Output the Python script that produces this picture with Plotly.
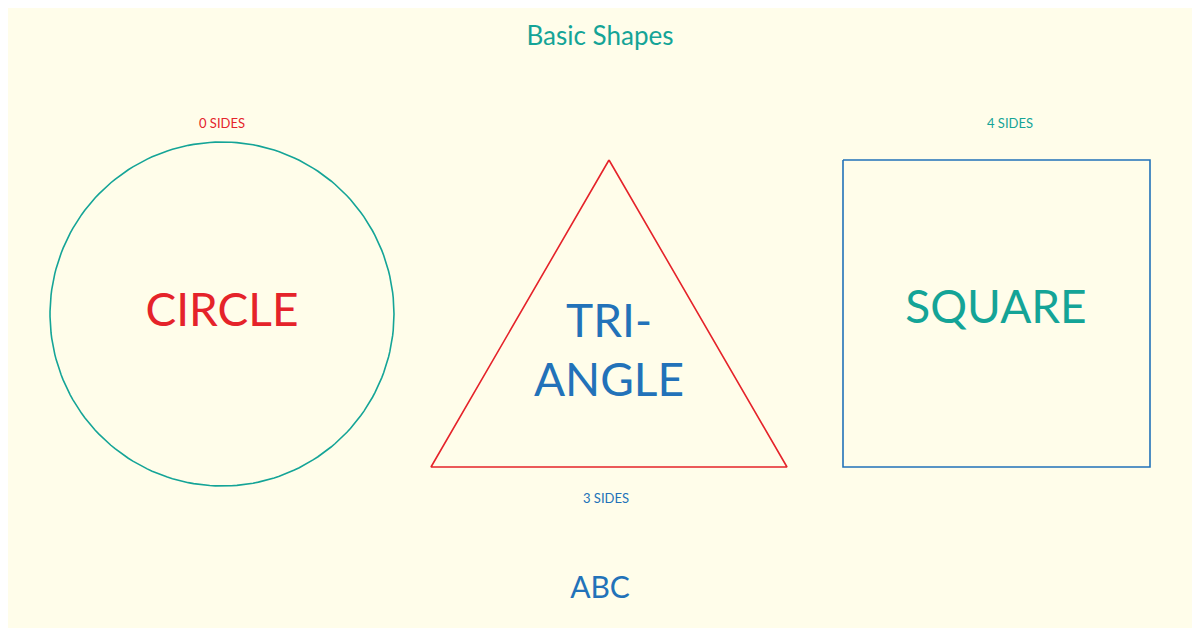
import numpy as np
import plotly.graph_objects as go

# shape data (in pixel-like units of a 1200 x 628 canvas)
shape_names = ["CIRCLE", "TRI-<br>ANGLE", "SQUARE"]
side_labels = ["0 SIDES", "3 SIDES", "4 SIDES"]
shape_colors = ["#14a497", "#e5232a", "#2272b9"]
text_colors = ["#e5232a", "#2272b9", "#14a497"]
centers_x = [222, 609, 996]
centers_y = [314, 355, 311]
circle_r = 172
tri_x = [609, 431, 787, 609]
tri_y = [160, 467, 467, 160]
sq_x = [843, 1150, 1150, 843, 843]
sq_y = [160, 160, 467, 467, 160]
label_x = [222, 606, 1010]
label_y = [125, 500, 125]

FONT = "Comic Sans MS, Lato, sans-serif"

fig = go.Figure()

t = np.linspace(0, 2 * np.pi, 200)
fig.add_trace(go.Scatter(x=centers_x[0] + circle_r * np.cos(t), y=314 + circle_r * np.sin(t),
                         mode="lines", line=dict(color=shape_colors[0], width=1.6), hoverinfo="skip"))
fig.add_trace(go.Scatter(x=tri_x, y=tri_y, mode="lines",
                         line=dict(color=shape_colors[1], width=1.6), hoverinfo="skip"))
fig.add_trace(go.Scatter(x=sq_x, y=sq_y, mode="lines",
                         line=dict(color=shape_colors[2], width=1.6), hoverinfo="skip"))

# big labels inside shapes
fig.add_trace(go.Scatter(x=centers_x, y=centers_y, mode="text", text=shape_names,
                         textfont=dict(family=FONT, size=46, color=text_colors), hoverinfo="skip"))
# side labels
fig.add_trace(go.Scatter(x=label_x, y=label_y, mode="text", text=side_labels,
                         textfont=dict(family=FONT, size=13, color=text_colors), hoverinfo="skip"))
# title and footer
fig.add_trace(go.Scatter(x=[600, 600], y=[38, 590], mode="text", text=["Basic Shapes", "ABC"],
                         textfont=dict(family=FONT, size=[26, 30], color=["#14a497", "#2272b9"]),
                         hoverinfo="skip"))

# page body has an 8px margin, so shift the ranges to compensate
fig.update_layout(
    width=1200, height=628,
    margin=dict(l=0, r=0, t=0, b=0),
    paper_bgcolor="#fffdea", plot_bgcolor="#fffdea",
    showlegend=False,
    xaxis=dict(range=[8, 1208], visible=False, fixedrange=True),
    yaxis=dict(range=[636, 8], visible=False, fixedrange=True),
)

fig.write_html("out.html")
